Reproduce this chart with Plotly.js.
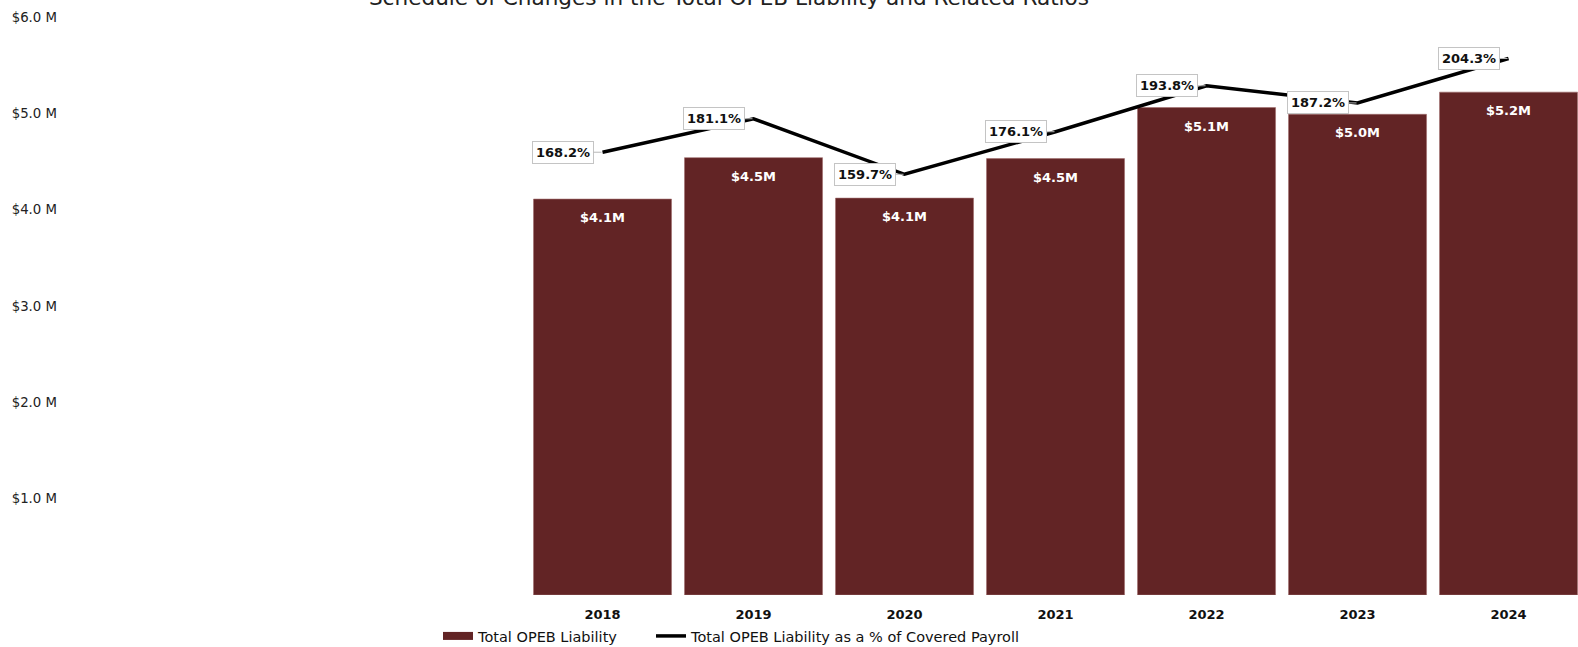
<!DOCTYPE html>
<html>
<head>
<meta charset="utf-8">
<script src="https://cdn.plot.ly/plotly-3.0.1.min.js"></script>
<style>
html,body{margin:0;padding:0;background:#fff;overflow:hidden;}
#chart{width:1578px;height:647px;}
</style>
</head>
<body>
<div id="chart"></div>
<script>
// ---- data ----
var years = ['2018', '2019', '2020', '2021', '2022', '2023', '2024'];
var liabilityMillions = [4.11, 4.54, 4.12, 4.53, 5.06, 4.99, 5.22];
var liabilityLabels = ['$4.1M', '$4.5M', '$4.1M', '$4.5M', '$5.1M', '$5.0M', '$5.2M'];
var pctOfPayroll = [168.2, 181.1, 159.7, 176.1, 193.8, 187.2, 204.3];
var pctLabels = ['168.2%', '181.1%', '159.7%', '176.1%', '193.8%', '187.2%', '204.3%'];
var yTickVals = [1, 2, 3, 4, 5, 6];
var yTickText = ['$1.0 M', '$2.0 M', '$3.0 M', '$4.0 M', '$5.0 M', '$6.0 M'];
var titleText = 'Schedule of Changes in the Total OPEB Liability and Related Ratios';
var seriesNames = ['Total OPEB Liability', 'Total OPEB Liability as a % of Covered Payroll'];

var FONT = 'DejaVu Sans, Arial, sans-serif';
var BAR = '#622425';

var traces = [
  {
    type: 'bar',
    name: seriesNames[0],
    x: years,
    y: liabilityMillions,
    marker: {color: BAR, line: {color: 'rgba(160,110,110,0.6)', width: 1}},
    showlegend: false,
    hoverinfo: 'skip'
  },
  // legend-only entry giving the bar series a wide rectangular swatch
  {
    type: 'scatter',
    mode: 'lines',
    name: seriesNames[0],
    x: [null], y: [null],
    line: {color: BAR, width: 8},
    legendrank: 1,
    legendwidth: 168,
    hoverinfo: 'skip'
  },
  {
    type: 'scatter',
    mode: 'lines',
    name: seriesNames[1],
    x: years,
    y: pctOfPayroll,
    yaxis: 'y2',
    line: {color: '#000', width: 3.5},
    legendrank: 2,
    hoverinfo: 'skip'
  }
];

var annotations = [];
years.forEach(function (yr, i) {
  annotations.push({
    x: i, y: liabilityMillions[i], xref: 'x', yref: 'y',
    text: '<b>' + liabilityLabels[i] + '</b>',
    showarrow: false, yanchor: 'top', yshift: -9,
    font: {family: FONT, size: 13, color: '#fff'}
  });
  annotations.push({
    x: i, y: pctOfPayroll[i], xref: 'x', yref: 'y2',
    text: '<b>' + pctLabels[i] + '</b>',
    showarrow: true, arrowhead: 0, arrowwidth: 1, arrowcolor: '#b8b8b8',
    ax: -9, ay: 0, standoff: 1,
    xanchor: 'right', yanchor: 'middle',
    bgcolor: '#fff', bordercolor: '#c4c4c4', borderwidth: 1, borderpad: 3,
    font: {family: FONT, size: 13, color: '#111'}
  });
});

var layout = {
  width: 1578, height: 647,
  margin: {l: 74, r: 0, t: 17, b: 52, pad: 0},
  paper_bgcolor: '#fff', plot_bgcolor: '#fff',
  font: {family: FONT, color: '#222'},
  title: {
    text: titleText,
    font: {family: FONT, size: 21.6, color: '#222'},
    xref: 'container', x: 729 / 1578, xanchor: 'center',
    yref: 'container', y: 1 - 5 / 647, yanchor: 'bottom'
  },
  bargap: 0.086,
  showlegend: true,
  legend: {
    orientation: 'h',
    xref: 'container', x: 732 / 1578, xanchor: 'center',
    yref: 'container', y: 11 / 647, yanchor: 'middle',
    font: {family: FONT, size: 14.5, color: '#111'},
    bgcolor: 'rgba(0,0,0,0)',
    itemwidth: 30
  },
  xaxis: {
    type: 'category',
    categoryorder: 'array', categoryarray: years,
    range: [-3.5, 6.46],
    showgrid: false, zeroline: false, showline: false, ticks: '',
    tickfont: {family: FONT, size: 13, color: '#111', weight: 'bold'},
    ticklabelstandoff: 10
  },
  yaxis: {
    range: [0, 6],
    tickvals: yTickVals, ticktext: yTickText,
    showgrid: false, zeroline: false, showline: false, ticks: '',
    tickfont: {family: FONT, size: 13.3, color: '#222'},
    ticklabelstandoff: 16
  },
  yaxis2: {
    overlaying: 'y', side: 'right',
    range: [-2.4, 220.3],
    visible: false, showgrid: false, zeroline: false
  },
  annotations: annotations
};

Plotly.newPlot('chart', traces, layout, {displayModeBar: false, staticPlot: true});
</script>
</body>
</html>
